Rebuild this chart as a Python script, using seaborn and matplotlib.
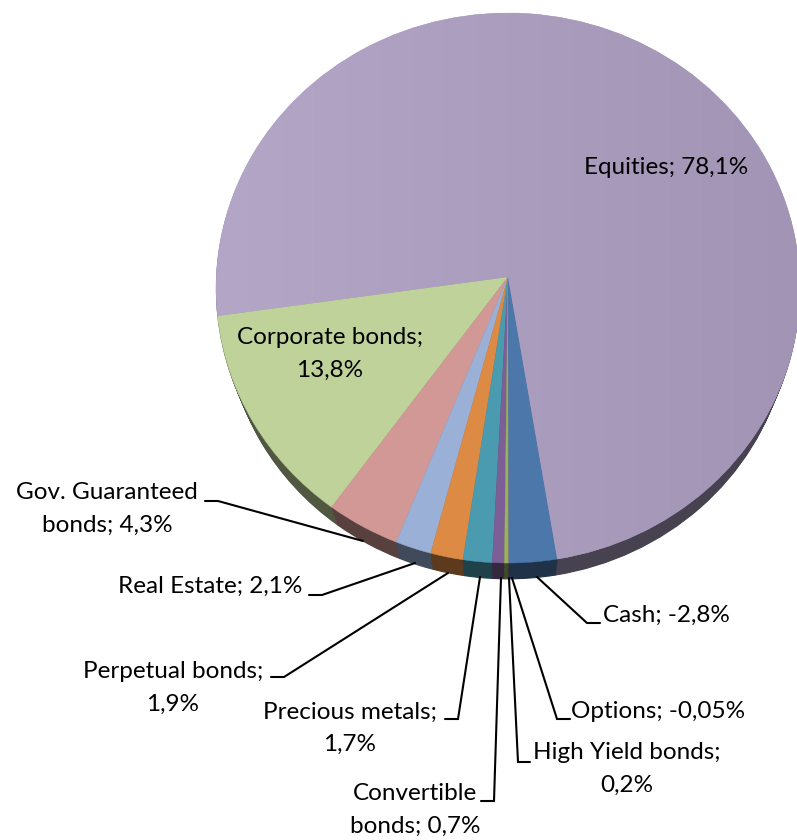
import numpy as np
import matplotlib
matplotlib.use("Agg")
import matplotlib.pyplot as plt
from matplotlib.colors import LinearSegmentedColormap, to_rgb
import seaborn as sns

categories = ["Equities", "Corporate bonds", "Gov. Guaranteed bonds", "Real Estate",
              "Perpetual bonds", "Precious metals", "Convertible bonds",
              "High Yield bonds", "Options", "Cash"]
values = [78.1, 13.8, 4.3, 2.1, 1.9, 1.7, 0.7, 0.2, 0.05, 2.8]
shown = ["78,1%", "13,8%", "4,3%", "2,1%", "1,9%", "1,7%", "0,7%", "0,2%", "-0,05%", "-2,8%"]
palette = ["#AA9DBD", "#BFD29A", "#D29896", "#9BB0D6", "#DD8A45",
           "#4A9BB0", "#7B5F96", "#9AB55A", "#C99A4A", "#4C77AB"]

sns.set_theme(style="white")
plt.rcParams["font.family"] = ["Lato", "DejaVu Sans"]

W, H = 797, 840
cx, cy, rx, ry = 508, 288, 292, 275
apex_y = 277
start = -80.3
fig = plt.figure(figsize=(W / 100, H / 100), dpi=100)
ax = fig.add_axes([0, 0, 1, 1])
colors = sns.color_palette(palette, len(values))

def shade(c, f):
    return tuple(x * f for x in to_rgb(c))

side = [shade(c, 0.42) for c in colors]
for k, t in enumerate(np.linspace(1, 0.05, 14)):
    layer, _ = ax.pie(values, colors=side, startangle=start, counterclock=True,
                      center=(0, -0.0915 * t), radius=1 - 0.034 * t,
                      wedgeprops=dict(zorder=1 + k * 0.01), frame=True)
    for w, c in zip(layer, side):
        w.set_edgecolor(c)
        w.set_linewidth(0.8)
wedges, _ = ax.pie(values, colors=colors, startangle=start, counterclock=True,
                   center=(0, 0), radius=1,
                   wedgeprops=dict(zorder=2), frame=True)
for w, c in zip(wedges, colors):
    w.set_edgecolor(c)
    w.set_linewidth(0.3)

# the apex of the tilted pie sits a little above the centre of its rim
apex = (cy - apex_y) / ry
for w in wedges:
    v = w.get_path().vertices
    v[np.all(np.isclose(v, 0.0), axis=1)] = (0.0, apex)
    w.stale = True

ax.set_xlim((0 - cx) / rx, (W - cx) / rx)
ax.set_ylim((cy - H) / ry, cy / ry)
ax.set_aspect("auto")
ax.axis("off")

# soft light-to-dark sheen on the big slice
cmap = LinearSegmentedColormap.from_list("sheen", ["#B3A6C7", "#A194B4"])
xl, yl = ax.get_xlim(), ax.get_ylim()
im = ax.imshow(np.linspace(0, 1, 256).reshape(1, -1), cmap=cmap, aspect="auto",
               extent=(-1, 1, -1, 1), zorder=3, interpolation="bilinear")
im.set_clip_path(wedges[0])
ax.set_xlim(xl)
ax.set_ylim(yl)
ax.set_aspect("auto")

# overlay in pixel coordinates for labels and leader lines
ov = fig.add_axes([0, 0, 1, 1], facecolor="none")
ov.set_xlim(0, W)
ov.set_ylim(H, 0)
ov.axis("off")

fs = 17.5
labels = [
    (0, "{}; {}", 666, 168, ()),
    (1, "{};\n{}", 330, 354, ()),
    (2, "Gov. Guaranteed\nbonds; {1}", 107, 509, ((205, 501), (218, 501), (363, 541))),
    (3, "{}; {}", 210, 586, ((309, 595), (322, 595), (415, 563))),
    (4, "{};\n{}", 173, 688, ((271, 677), (284, 677), (448, 573))),
    (5, "{};\n{}", 350, 728, ((445, 719), (458, 719), (480, 577))),
    (6, "Convertible\nbonds; {1}", 415, 810, ((481, 801), (494, 801), (501, 578))),
    (7, "{};\n{}", 627, 769, ((530, 762), (518, 762), (509, 578))),
    (8, "{}; {}", 658, 711, ((570, 719), (557, 719), (512, 578))),
    (9, "{}; {}", 666, 615, ((600, 623), (587, 623), (537, 577))),
]
for i, fmt, x, y, line in labels:
    ov.text(x, y, fmt.format(categories[i], shown[i]), ha="center", va="center",
            fontsize=fs, color="black", linespacing=1.65, zorder=6)
    if line:
        xs, ys = zip(*line)
        ov.plot(xs, ys, color="black", lw=1.5, solid_joinstyle="miter", zorder=5)

fig.savefig("out.png", dpi=100)
